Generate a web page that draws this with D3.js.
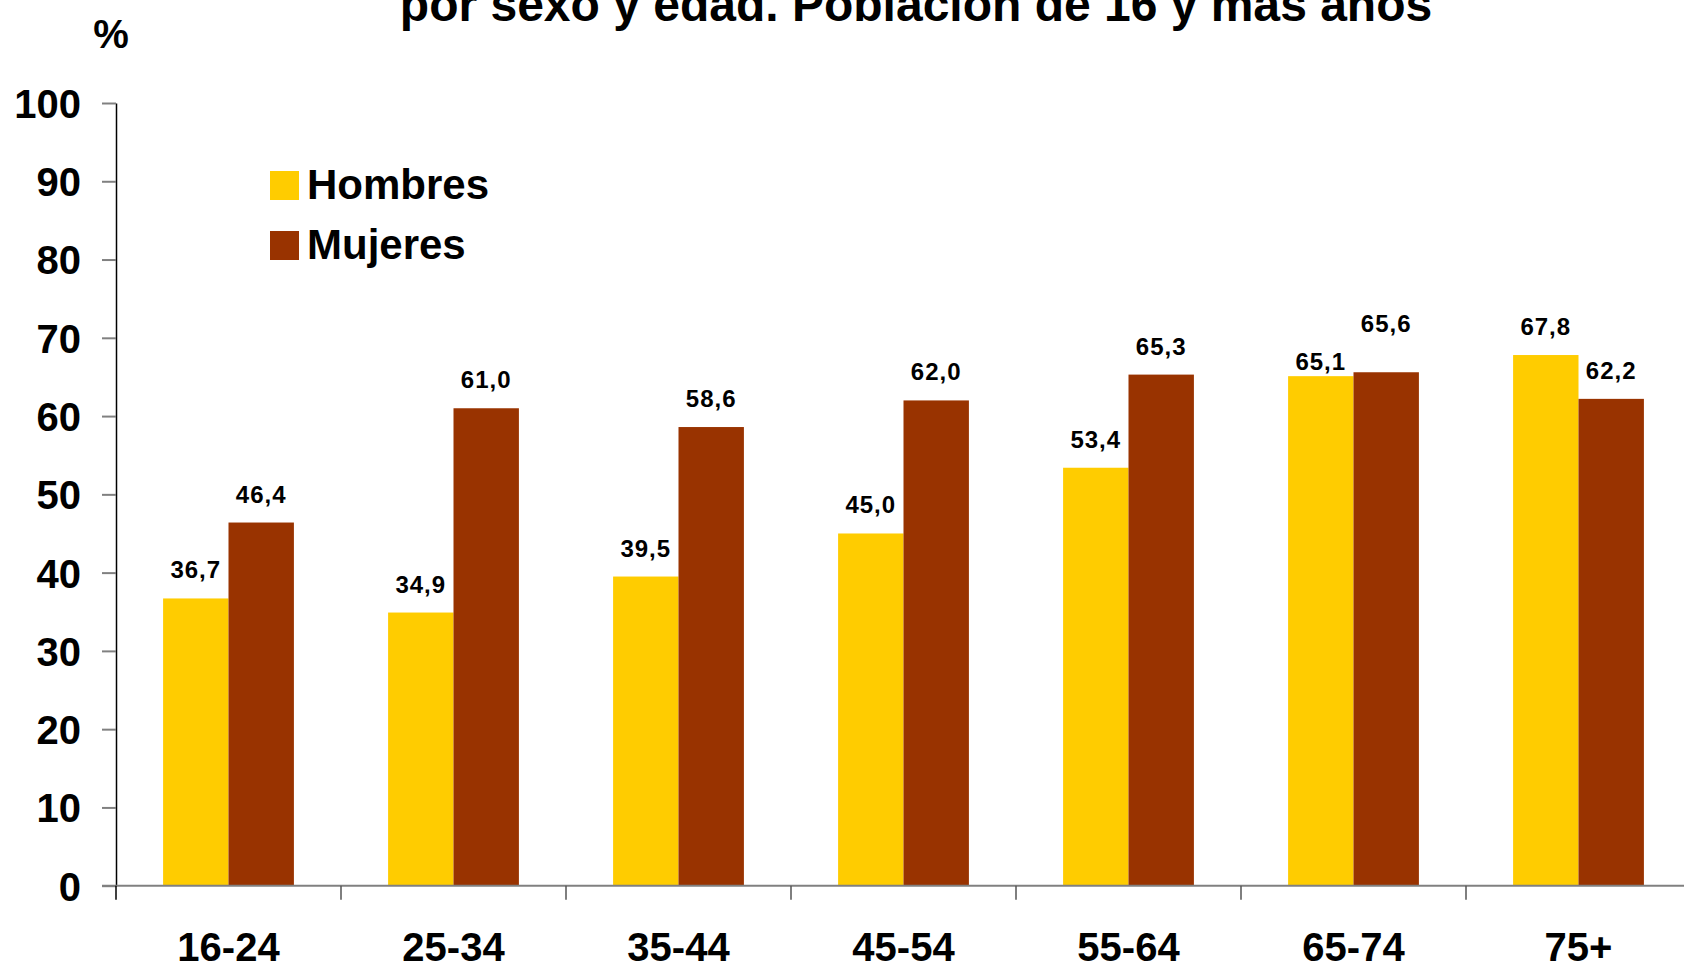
<!DOCTYPE html>
<html>
<head>
<meta charset="utf-8">
<script src="https://cdn.jsdelivr.net/npm/d3@7"></script>
<style>
  body { margin: 0; background: #fff; }
  svg { display: block; font-family: "Liberation Sans", Arial, sans-serif; font-weight: bold; }
</style>
</head>
<body>
<svg id="chart" width="1684" height="964"></svg>
<script>
// data
let ageGroups = ["16-24", "25-34", "35-44", "45-54", "55-64", "65-74", "75+"];
let seriesNames = ["Hombres", "Mujeres"];
let hombres = [36.7, 34.9, 39.5, 45.0, 53.4, 65.1, 67.8];
let mujeres = [46.4, 61.0, 58.6, 62.0, 65.3, 65.6, 62.2];
let yTicks = [0, 10, 20, 30, 40, 50, 60, 70, 80, 90, 100];
let colors = ["#FFCC00", "#993300"];

let svg = d3.select("#chart");
let width = 1684, height = 964;
let margin = {top: 103, left: 116, bottom: 964 - 885.7};

// scales
let x = d3.scaleBand()
          .domain(ageGroups)
          .range([margin.left, margin.left + 225 * ageGroups.length])
          .padding(0);
let x1 = d3.scaleBand()
           .domain(seriesNames)
           .range([0, x.bandwidth()])
           .paddingInner(0)
           .paddingOuter(0.72);
let y = d3.scaleLinear()
          .domain([0, 100])
          .range([height - margin.bottom, margin.top]);

// title (first line falls outside the picture)
svg.append("text")
   .attr("x", 916)
   .attr("y", 21)
   .attr("text-anchor", "middle")
   .attr("font-size", 48)
   .text("por sexo y edad. Población de 16 y más años");

svg.append("text")
   .attr("x", 111)
   .attr("y", 48)
   .attr("text-anchor", "middle")
   .attr("font-size", 40)
   .text("%");

// bars
let rows = ageGroups.map(function(g, i) {
  return {group: g, values: [{s: "Hombres", v: hombres[i]}, {s: "Mujeres", v: mujeres[i]}]};
});

let groups = svg.selectAll(".grp")
                .data(rows)
                .join("g")
                .attr("class", "grp")
                .attr("transform", d => `translate(${x(d.group)},0)`);

groups.selectAll("rect")
      .data(d => d.values)
      .join("rect")
      .attr("x", d => x1(d.s))
      .attr("width", x1.bandwidth())
      .attr("y", d => y(d.v))
      .attr("height", d => y(0) - y(d.v))
      .attr("fill", (d, i) => colors[i]);

// labels sit 20px above the bar, except where they were moved apart in the original
let labelShift = {"65-74|Hombres": 14, "65-74|Mujeres": -20};
groups.each(function(row) {
  d3.select(this).selectAll("text.val")
    .data(row.values)
    .join("text")
    .attr("class", "val")
    .attr("x", d => x1(d.s) + x1.bandwidth() / 2)
    .attr("y", d => y(d.v) - 20 + (labelShift[row.group + "|" + d.s] || 0))
    .attr("text-anchor", "middle")
    .attr("font-size", 24)
    .attr("letter-spacing", 1)
    .text(d => d3.format(".1f")(d.v).replace(".", ","));
});

// y axis
let yAxis = svg.append("g")
               .attr("transform", `translate(${margin.left},0)`)
               .call(d3.axisLeft(y).tickValues(yTicks).tickSize(14).tickPadding(21).tickSizeOuter(0));
yAxis.select(".domain").attr("stroke", "#000").attr("stroke-width", 1.5);
yAxis.selectAll(".tick line").attr("stroke", "#808080").attr("stroke-width", 2);
yAxis.selectAll(".tick text")
     .attr("font-size", 40)
     .attr("font-family", "Liberation Sans, Arial, sans-serif")
     .attr("font-weight", "bold")
     .attr("fill", "#000")
     .attr("dy", "0.36em");

// x axis: line in grey, ticks on the band edges
svg.append("line")
   .attr("x1", margin.left - 14)
   .attr("x2", width)
   .attr("y1", y(0))
   .attr("y2", y(0))
   .attr("stroke", "#808080")
   .attr("stroke-width", 2);

let edges = ageGroups.map(g => x(g));
svg.selectAll(".xtick")
   .data(edges)
   .join("line")
   .attr("class", "xtick")
   .attr("x1", d => d)
   .attr("x2", d => d)
   .attr("y1", y(0))
   .attr("y2", y(0) + 14)
   .attr("stroke", (d, i) => i === 0 ? "#000" : "#555")
   .attr("stroke-width", 1.5);

svg.selectAll(".xlab")
   .data(ageGroups)
   .join("text")
   .attr("class", "xlab")
   .attr("x", d => x(d) + x.bandwidth() / 2)
   .attr("y", 961)
   .attr("text-anchor", "middle")
   .attr("font-size", 40)
   .text(d => d);

// legend
let legend = svg.selectAll(".leg")
                .data(seriesNames)
                .join("g")
                .attr("class", "leg")
                .attr("transform", (d, i) => `translate(270,${171 + i * 60})`);
legend.append("rect")
      .attr("width", 29)
      .attr("height", 29)
      .attr("fill", (d, i) => colors[i]);
legend.append("text")
      .attr("x", 37)
      .attr("y", 28)
      .attr("font-size", 42)
      .text(d => d);
</script>
</body>
</html>
